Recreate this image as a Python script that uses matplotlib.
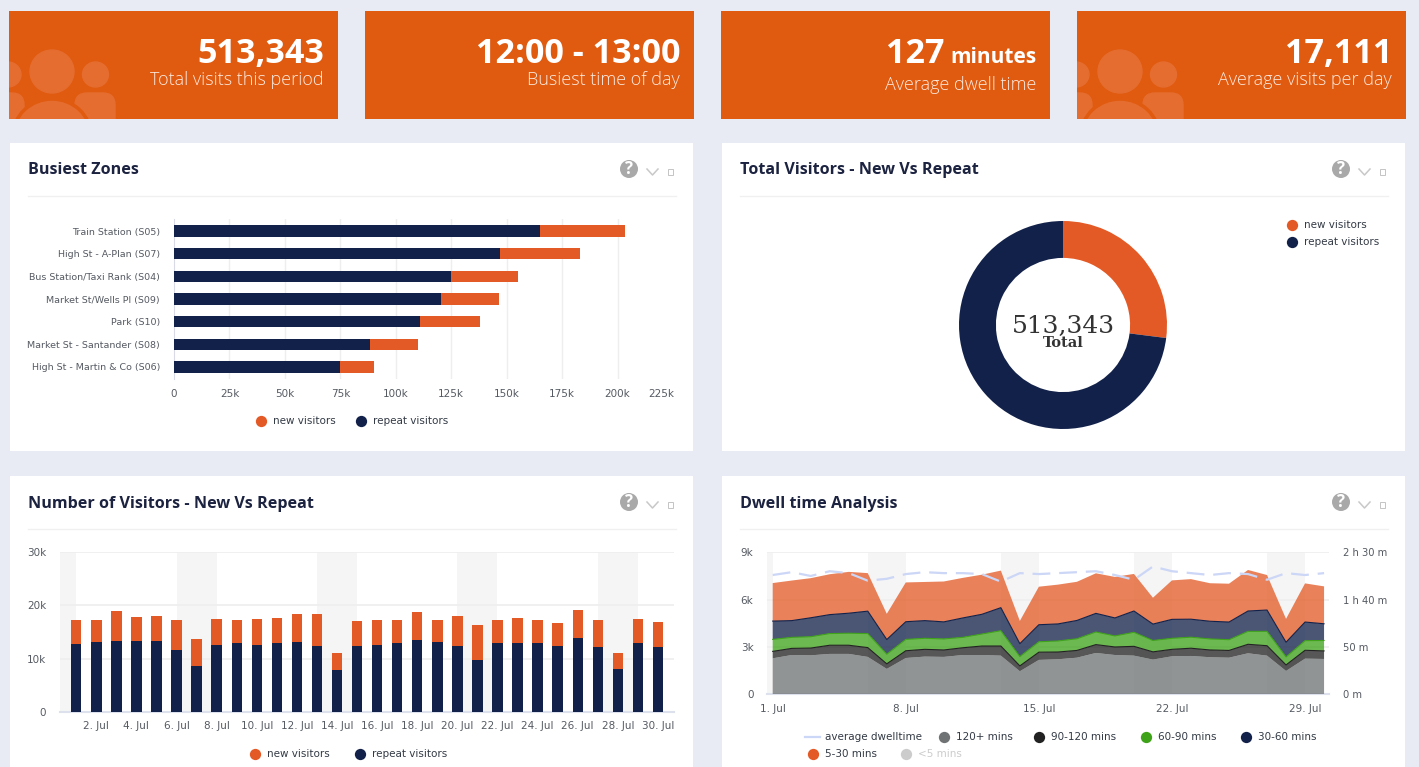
import numpy as np
import matplotlib
matplotlib.use('Agg')
import matplotlib.pyplot as plt
from matplotlib.colors import to_rgba
from matplotlib.patches import Rectangle, Ellipse, Circle, FancyBboxPatch

W, H = 1419, 767

# Busiest zones
zones = ['Train Station (S05)', 'High St - A-Plan (S07)', 'Bus Station/Taxi Rank (S04)',
         'Market St/Wells Pl (S09)', 'Park (S10)', 'Market St - Santander (S08)',
         'High St - Martin & Co (S06)']
zone_repeat = [165000, 147000, 125000, 120500, 111000, 88500, 75000]
zone_new = [38500, 36000, 30000, 26000, 27000, 21500, 15000]
zone_ticks = [0, 25000, 50000, 75000, 100000, 125000, 150000, 175000, 200000, 225000]
zone_tick_labels = ['0', '25k', '50k', '75k', '100k', '125k', '150k', '175k', '200k', '225k']

# Donut
donut_values = [138600, 374743]

# Daily visitors
days = list(range(1, 31))
daily_repeat = [12800, 13100, 13400, 13400, 13400, 11700, 8600, 12600, 12900, 12600,
                12900, 13200, 12400, 7800, 12400, 12600, 12900, 13500, 13100, 12400,
                9800, 12900, 12900, 12900, 12400, 13900, 12100, 8100, 12900, 12100]
daily_new = [4500, 4100, 5500, 4400, 4600, 5500, 5000, 4900, 4300, 4900,
             4800, 5200, 6000, 3200, 4600, 4600, 4400, 5200, 4100, 5600,
             6500, 4300, 4800, 4300, 4200, 5300, 5200, 2900, 4600, 4800]
weekend_start = [6, 13, 20, 27]
weekend_end = [8, 15, 22, 29]

# Dwell time, one array per stacked band
dwell_120 = [2280, 2490, 2470, 2560, 2560, 2370, 1610, 2300, 2390, 2370,
             2490, 2490, 2450, 1460, 2180, 2220, 2320, 2620, 2490, 2450,
             2200, 2410, 2430, 2350, 2320, 2600, 2450, 1480, 2260, 2240]
dwell_90 = [440, 420, 460, 550, 550, 590, 320, 460, 460, 440,
            460, 570, 610, 340, 490, 460, 460, 530, 510, 590,
            490, 440, 490, 460, 460, 570, 630, 380, 530, 510]
dwell_60 = [760, 700, 720, 740, 760, 890, 610, 720, 700, 700,
            660, 760, 970, 590, 660, 700, 740, 800, 700, 890,
            720, 700, 700, 700, 680, 820, 910, 510, 610, 660]
dwell_30 = [1160, 1060, 1200, 1200, 1270, 1420, 930, 1120, 1120, 1080,
            1230, 1250, 1460, 820, 1080, 1080, 1160, 1180, 1140, 1350,
            1040, 1200, 1140, 1120, 1120, 1290, 1350, 930, 1180, 1060]
dwell_5 = [2410, 2540, 2510, 2560, 2620, 2410, 1630, 2490, 2450, 2560,
           2540, 2510, 2350, 1440, 2410, 2490, 2450, 2540, 2600, 2350,
           1670, 2470, 2540, 2410, 2430, 2600, 2220, 1480, 2450, 2370]
avg_dwell = [126, 129, 125, 130, 128, 120, 122, 127, 129, 128,
             128, 127, 119, 128, 127, 128, 129, 130, 126, 121,
             135, 130, 128, 126, 128, 127, 121, 128, 126, 128]
dwell_ticks = [1, 8, 15, 22, 29]

BG = '#e8ebf3'
TILE = '#e05a10'
ICON = '#e56d2f'
ORANGE = '#e35a26'
NAVY = '#12214a'
INK = '#1c2340'
LABEL = '#555a62'
GRID = '#eeeeee'
AXIS = '#dde1ee'
BAND = '#f5f5f5'
UI_FONT = ['Open Sans', 'DejaVu Sans']
CHART_FONT = ['DejaVu Sans']

plt.rcParams['font.family'] = CHART_FONT

fig = plt.figure(figsize=(W / 100, H / 100), dpi=100, facecolor=BG)

# page furniture goes on one axes that runs in pixels
page = fig.add_axes([0, 0, 1, 1], zorder=0)
page.set_xlim(0, W)
page.set_ylim(H, 0)
page.axis('off')

top = fig.add_axes([0, 0, 1, 1], zorder=10)
top.set_xlim(0, W)
top.set_ylim(H, 0)
top.axis('off')
top.patch.set_alpha(0)


def ax_px(x0, y0, x1, y1):
    ax = fig.add_axes([x0 / W, 1 - y1 / H, (x1 - x0) / W, (y1 - y0) / H], zorder=5)
    ax.patch.set_alpha(0)
    return ax


def people_icon(x0):
    clip = Rectangle((x0, 11), 329, 108, transform=page.transData)
    shapes = [
        Ellipse((x0 - 1, 74.5), 26, 25, color=ICON),
        Ellipse((x0 + 86.5, 74.5), 26, 25, color=ICON),
        FancyBboxPatch((x0 - 30, 93), 45, 40, boxstyle='round,pad=0,rounding_size=12', color=ICON),
        FancyBboxPatch((x0 + 66, 93), 40, 40, boxstyle='round,pad=0,rounding_size=12', color=ICON),
        Ellipse((x0 + 43, 71.5), 44, 43, color=ICON),
        Ellipse((x0 + 43, 136), 78, 74, facecolor=ICON, edgecolor=TILE, linewidth=2.5),
    ]
    for s in shapes:
        page.add_patch(s)
        s.set_clip_path(clip)


def tile(x0, big, small, small_y=85, unit=None):
    page.add_patch(Rectangle((x0, 11), 329, 108, color=TILE, lw=0))
    right = x0 + 315
    if x0 in (9, 1077):
        people_icon(x0)
    if unit:
        page.text(right + 1, 63, unit, color='white', fontsize=15, fontweight='bold',
                  ha='right', va='baseline', family=UI_FONT)
        right -= 91
    page.text(right, 63, big, color='white', fontsize=24.6, fontweight='bold',
              ha='right', va='baseline', family=UI_FONT)
    page.text(x0 + 315, small_y, small, color='#fcebe0', fontsize=13, fontweight='light',
              ha='right', va='baseline', family=UI_FONT)


def card(x0, y0, x1, y1, title):
    page.add_patch(Rectangle((x0, y0), x1 - x0, y1 - y0, color='white', lw=0))
    page.text(x0 + 18, y0 + 27.5, title, color=INK, fontsize=11.6, fontweight='bold',
              ha='left', va='center', family=UI_FONT)
    page.plot([x0 + 18, x1 - 17], [y0 + 53, y0 + 53], color='#f0f0f0', lw=1)
    page.add_patch(Circle((x0 + 619, y0 + 26), 9, color='#a9a9a9', lw=0))
    page.text(x0 + 619, y0 + 26, '?', color='white', fontsize=12, fontweight='bold',
              ha='center', va='center', family=UI_FONT)
    page.plot([x0 + 637, x0 + 642.5, x0 + 648], [y0 + 26, y0 + 32, y0 + 26], color='#c8c8c8', lw=1.1)
    page.add_patch(Rectangle((x0 + 657.5, y0 + 25.5), 5, 6, facecolor='none', edgecolor='#c4c4c4', lw=0.7))


def legend_dot(x, y, text, color, text_color='#333a45'):
    top.scatter([x], [y], s=66, color=color, linewidths=0)
    top.text(x + 12, y, text, color=text_color, fontsize=7.5, ha='left', va='center')


def style_axis(ax):
    for s in ax.spines.values():
        s.set_visible(False)
    ax.tick_params(length=0, labelsize=7.5, labelcolor=LABEL)


tile(9, '513,343', 'Total visits this period')
tile(365, '12:00 - 13:00', 'Busiest time of day')
tile(721, '127', 'Average dwell time', small_y=90, unit='minutes')
tile(1077, '17,111', 'Average visits per day')

card(10, 143, 693, 451, 'Busiest Zones')
card(722, 143, 1405, 451, 'Total Visitors - New Vs Repeat')
card(10, 476, 693, 770, 'Number of Visitors - New Vs Repeat')
card(722, 476, 1405, 770, 'Dwell time Analysis')

# Busiest zones bars
ax1 = ax_px(174, 219, 673, 379)
ypos = np.arange(len(zones))
ax1.barh(ypos, zone_repeat, height=0.5, color=NAVY, zorder=3)
ax1.barh(ypos, zone_new, left=zone_repeat, height=0.5, color=ORANGE, zorder=3)
ax1.set_ylim(6.53, -0.53)
ax1.set_xlim(0, 225000)
ax1.set_xticks(zone_ticks[:-1] + [219500])
ax1.set_xticklabels(zone_tick_labels)
ax1.set_yticks(ypos)
ax1.set_yticklabels(zones, fontsize=6.8)
style_axis(ax1)
ax1.tick_params(axis='y', labelsize=6.8, pad=10)
ax1.tick_params(axis='x', pad=7)
ax1.set_axisbelow(True)
for t in zone_ticks[1:-1]:
    ax1.axvline(t, color=GRID, lw=1, zorder=0)
ax1.spines['left'].set_visible(True)
ax1.spines['left'].set_color('#d8dbe6')
legend_dot(261, 421, 'new visitors', ORANGE)
legend_dot(361, 421, 'repeat visitors', NAVY)

# Donut
ax2 = ax_px(959, 221, 1167, 429)
ax2.pie(donut_values, colors=[ORANGE, NAVY], startangle=90, counterclock=False,
        radius=1, wedgeprops={'width': 0.355, 'linewidth': 0})
ax2.set_xlim(-1, 1)
ax2.set_ylim(-1, 1)
top.text(1063, 326, '513,343', color='#333333', fontsize=18, ha='center', va='center',
         family='DejaVu Serif')
top.text(1063, 343, 'Total', color='#333333', fontsize=10.5, fontweight='bold', ha='center',
         va='center', family='DejaVu Serif')
legend_dot(1292, 225, 'new visitors', ORANGE)
legend_dot(1292, 242, 'repeat visitors', NAVY)

# Daily visitors columns
ax3 = ax_px(60, 552.3, 674, 711.7)
ax3.bar(days, daily_repeat, width=0.52, color=NAVY, zorder=3)
ax3.bar(days, daily_new, bottom=daily_repeat, width=0.52, color=ORANGE, zorder=3)
ax3.set_xlim(0.19, 30.8)
ax3.set_ylim(0, 30000)
ax3.axvspan(0.19, 1, color=BAND, lw=0, zorder=0)
for a, b in zip(weekend_start, weekend_end):
    ax3.axvspan(a, b, color=BAND, lw=0, zorder=0)
ax3.set_xticks(days[1::2])
ax3.set_xticklabels([f'{d}. Jul' for d in days[1::2]])
ax3.set_yticks([0, 10000, 20000, 30000])
ax3.set_yticklabels(['0', '10k', '20k', '30k'])
style_axis(ax3)
ax3.tick_params(axis='y', pad=10)
ax3.tick_params(axis='x', pad=7)
ax3.grid(axis='y', color=GRID, lw=1.2, zorder=1)
ax3.set_axisbelow(True)
ax3.spines['bottom'].set_visible(True)
ax3.spines['bottom'].set_color(AXIS)
ax3.spines['bottom'].set_linewidth(1.5)
legend_dot(255, 754, 'new visitors', ORANGE)
legend_dot(360, 754, 'repeat visitors', NAVY)

# Dwell time stacked areas
ax4 = ax_px(767.3, 552.3, 1329, 694.3)
bands = [dwell_120, dwell_90, dwell_60, dwell_30, dwell_5]
band_colors = ['#6f7374', '#222222', '#3fa31a', NAVY, ORANGE]
ax4.set_xlim(0.716, 30.26)
ax4.set_ylim(0, 9000)
ax4.axvspan(0.716, 1, color=BAND, lw=0, zorder=0)
for a, b in zip(weekend_start, weekend_end):
    ax4.axvspan(a, b, color=BAND, lw=0, zorder=0)
ax4.stackplot(days, bands, colors=[to_rgba(c, 0.76) for c in band_colors], linewidth=0, zorder=3)
running = np.cumsum(bands, axis=0)
for tops, c in zip(running[1:4], band_colors[1:4]):
    ax4.plot(days, tops, color=c, lw=0.8, zorder=4)
ax4.set_xticks(dwell_ticks)
ax4.set_xticklabels([f'{d}. Jul' for d in dwell_ticks])
ax4.set_yticks([0, 3000, 6000, 9000])
ax4.set_yticklabels(['0', '3k', '6k', '9k'])
style_axis(ax4)
ax4.tick_params(axis='y', pad=10)
ax4.tick_params(axis='x', pad=7)
ax4.grid(axis='y', color=GRID, lw=1.2, zorder=1)
ax4.set_axisbelow(True)
ax4.spines['bottom'].set_visible(True)
ax4.spines['bottom'].set_color(AXIS)
ax4.spines['bottom'].set_linewidth(1.5)

ax5 = ax4.twinx()
ax5.patch.set_alpha(0)
ax5.plot(days, avg_dwell, color='#ccd6f6', lw=1.6, dashes=(8, 4), zorder=5)
ax5.set_ylim(0, 150)
ax5.set_yticks([0, 50, 100, 150])
ax5.set_yticklabels(['0 m', '50 m', '1 h 40 m', '2 h 30 m'])
style_axis(ax5)
ax5.tick_params(axis='y', pad=10, labelsize=7.2)

top.plot([805, 820], [737, 737], color='#ccd6f6', lw=1.6)
top.text(825, 737, 'average dwelltime', color='#333a45', fontsize=7.5, ha='left', va='center')
legend_dot(944, 737, '120+ mins', '#6f7374')
legend_dot(1039, 737, '90-120 mins', '#222222')
legend_dot(1146, 737, '60-90 mins', '#3fa31a')
legend_dot(1246, 737, '30-60 mins', NAVY)
legend_dot(813, 754, '5-30 mins', ORANGE)
legend_dot(906, 754, '<5 mins', '#cccccc', text_color='#cccccc')

fig.savefig('out.png', dpi=100, facecolor=BG)
